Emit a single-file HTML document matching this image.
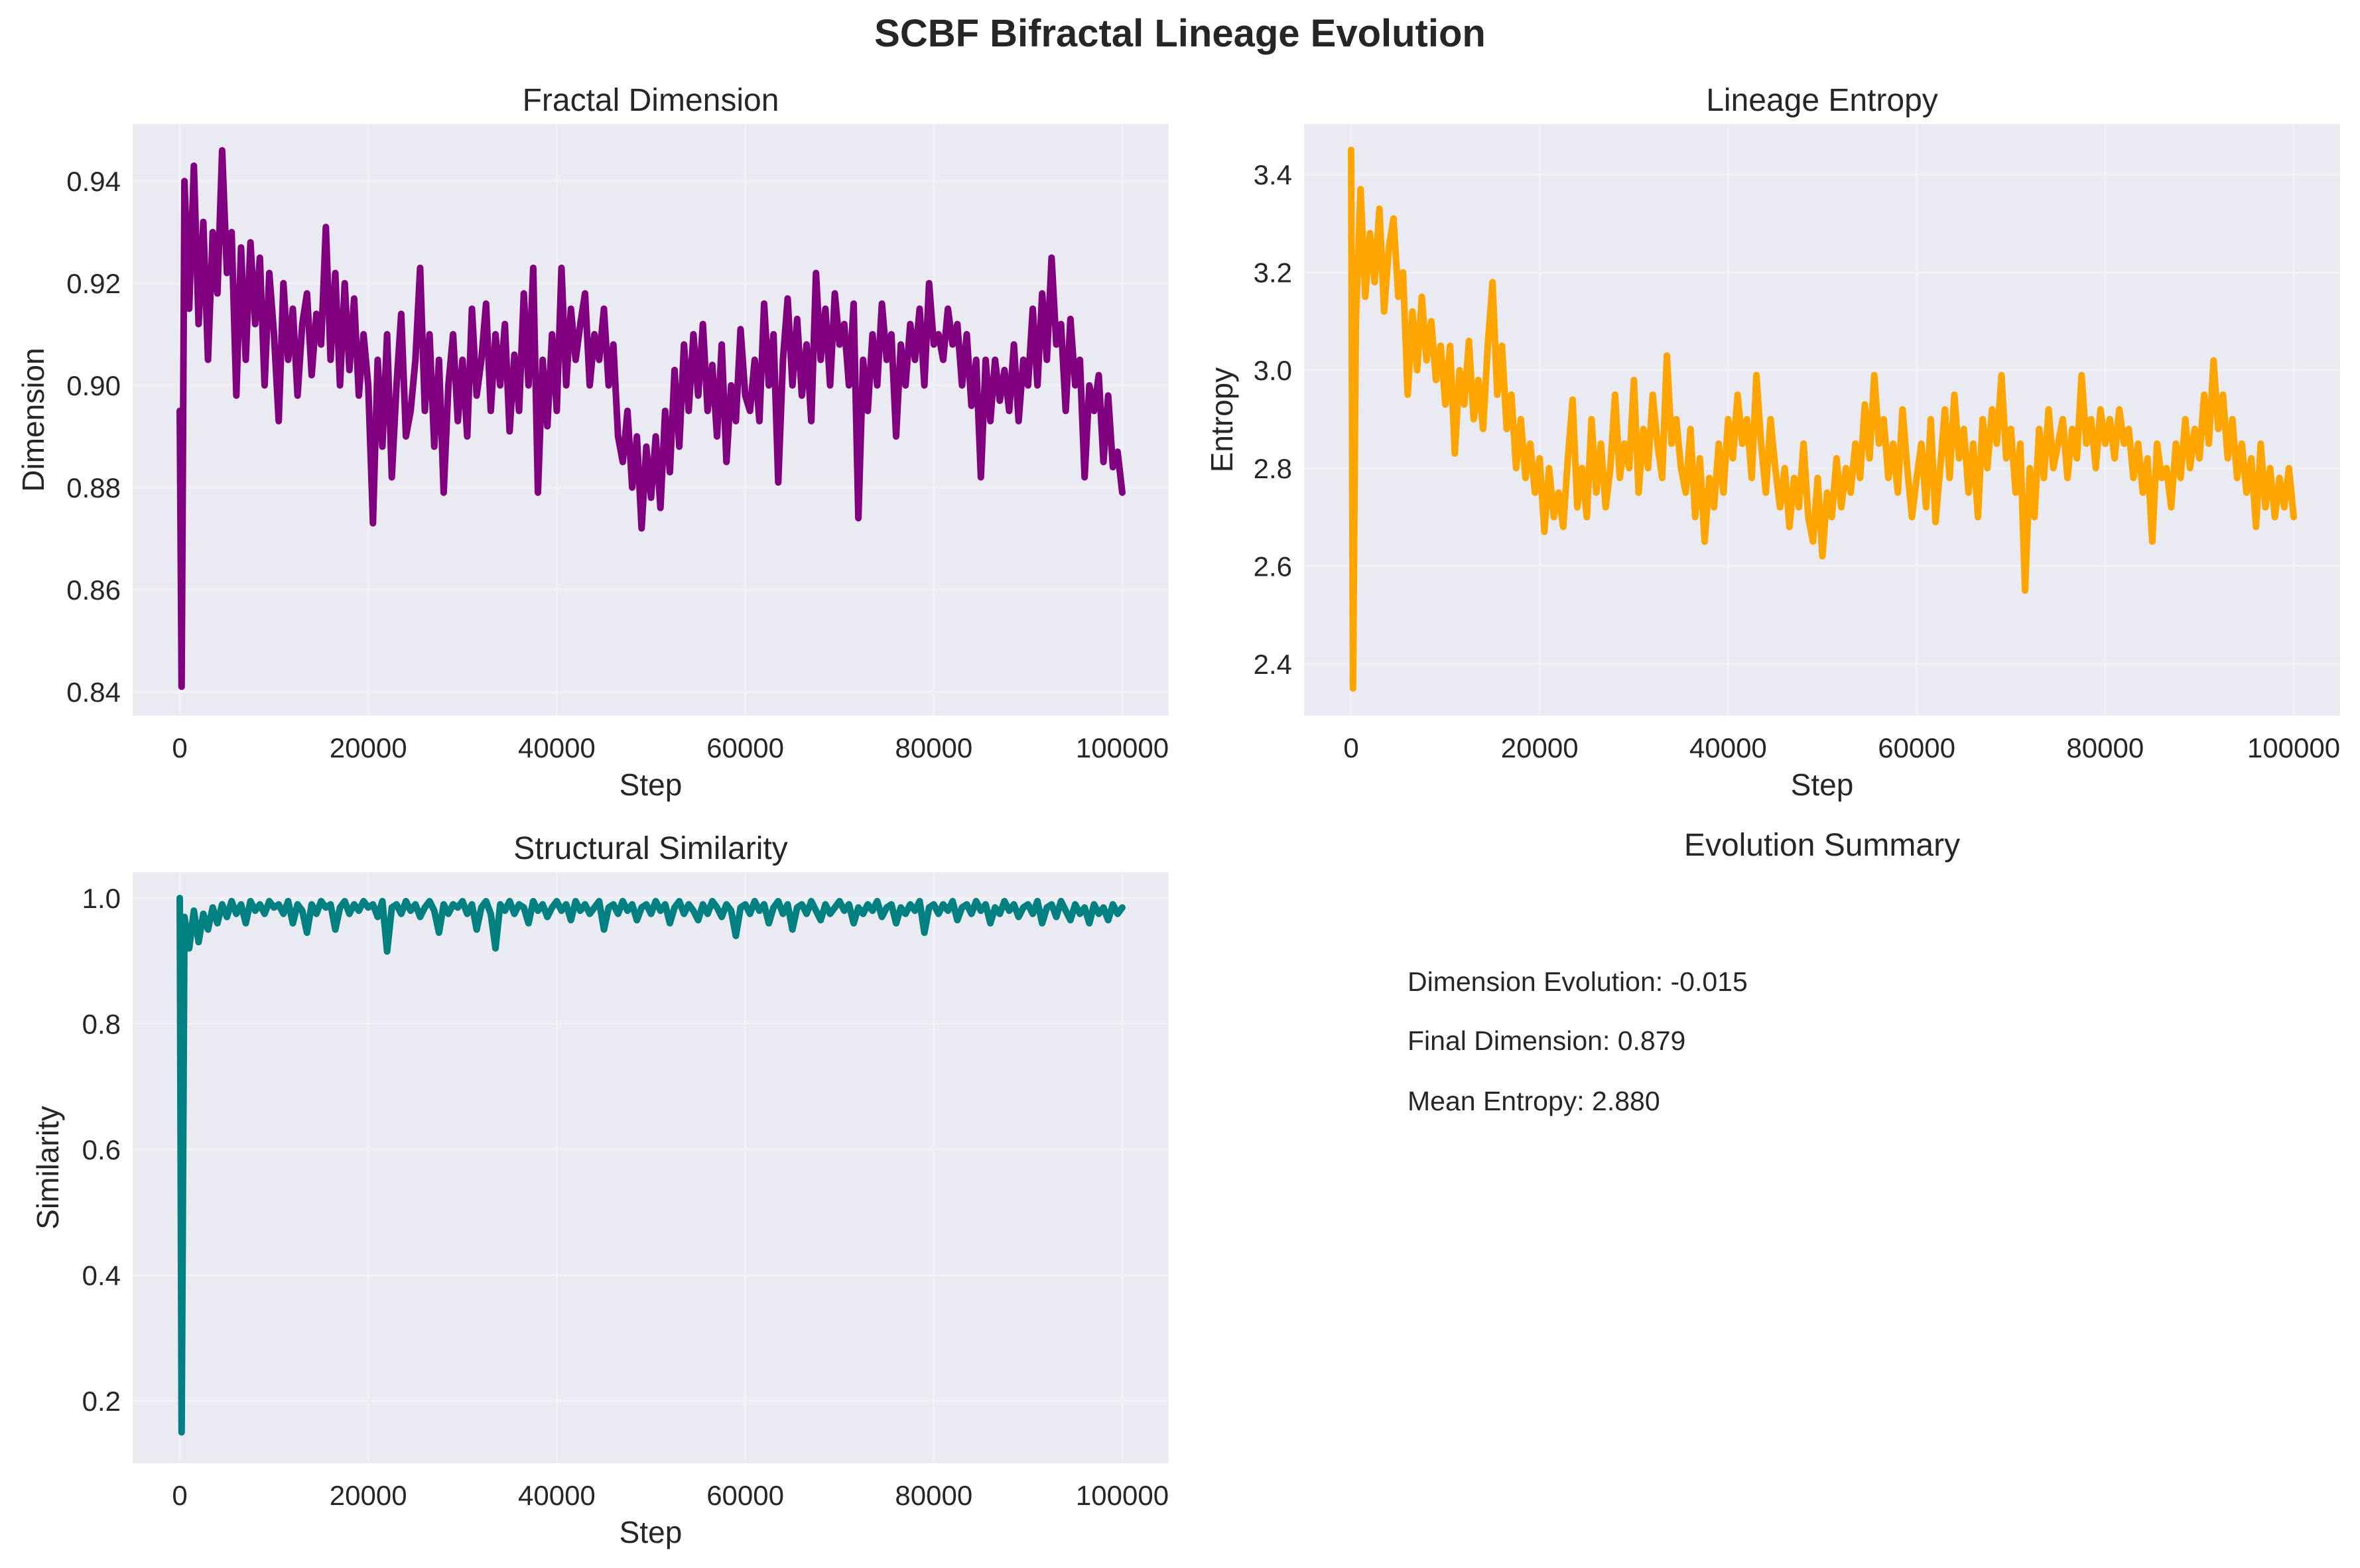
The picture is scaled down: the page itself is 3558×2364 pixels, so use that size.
<!DOCTYPE html>
<html><head><meta charset="utf-8">
<style>
html,body{margin:0;padding:0;background:#fff;}
svg{display:block;font-family:"Liberation Sans",Arial,sans-serif;}
</style></head>
<body>
<svg id="fig" width="3558" height="2364" viewBox="0 0 3558 2364" xmlns="http://www.w3.org/2000/svg">
<rect width="3558" height="2364" fill="#ffffff"/>
<text x="1779" y="70" text-anchor="middle" font-size="58" font-weight="bold" fill="#262626">SCBF Bifractal Lineage Evolution</text>
<g id="p1"></g>
<g id="p2"></g>
<g id="p3"></g>
<g>
<text x="2747" y="1290" text-anchor="middle" font-size="48" fill="#262626">Evolution Summary</text>
<text x="2122" y="1494" font-size="41" fill="#262626">Dimension Evolution: -0.015</text>
<text x="2122" y="1583" font-size="41" fill="#262626">Final Dimension: 0.879</text>
<text x="2122" y="1674" font-size="41" fill="#262626">Mean Entropy: 2.880</text>
</g>
</svg>
<script>
const xTicks = [0, 20000, 40000, 60000, 80000, 100000];
const xTickLabels = ["0", "20000", "40000", "60000", "80000", "100000"];
const dimTicks = [0.84, 0.86, 0.88, 0.90, 0.92, 0.94];
const dimTickLabels = ["0.84", "0.86", "0.88", "0.90", "0.92", "0.94"];
const entTicks = [2.4, 2.6, 2.8, 3.0, 3.2, 3.4];
const entTickLabels = ["2.4", "2.6", "2.8", "3.0", "3.2", "3.4"];
const simTicks = [0.2, 0.4, 0.6, 0.8, 1.0];
const simTickLabels = ["0.2", "0.4", "0.6", "0.8", "1.0"];
const steps = [0, 200].concat(Array.from({length: 200}, (_, i) => (i + 1) * 500));
const dimension = [0.895, 0.841,
0.940,0.915,0.943,0.912,0.932,0.905,0.930,0.918,0.946,0.922,0.930,0.898,0.927,0.905,0.928,0.912,0.925,0.900,0.922,0.910,
0.893,0.920,0.905,0.915,0.898,0.912,0.918,0.902,0.914,0.908,0.931,0.905,0.922,0.900,0.920,0.903,0.917,0.898,0.910,0.900,
0.873,0.905,0.888,0.910,0.882,0.900,0.914,0.890,0.895,0.905,0.923,0.895,0.910,0.888,0.905,0.879,0.900,0.910,0.893,0.905,
0.890,0.915,0.898,0.905,0.916,0.895,0.910,0.900,0.912,0.891,0.906,0.895,0.918,0.900,0.923,0.879,0.905,0.892,0.910,0.895,
0.923,0.900,0.915,0.905,0.912,0.918,0.900,0.910,0.905,0.915,0.900,0.908,0.890,0.885,0.895,0.880,0.890,0.872,0.888,0.878,
0.890,0.876,0.895,0.883,0.903,0.888,0.908,0.895,0.910,0.898,0.912,0.895,0.904,0.890,0.908,0.885,0.900,0.893,0.911,0.898,
0.895,0.905,0.893,0.916,0.900,0.910,0.881,0.905,0.917,0.900,0.913,0.898,0.908,0.893,0.922,0.905,0.915,0.900,0.918,0.908,
0.912,0.900,0.916,0.874,0.905,0.895,0.910,0.900,0.916,0.905,0.910,0.890,0.908,0.900,0.912,0.905,0.915,0.900,0.920,0.908,
0.910,0.905,0.915,0.908,0.912,0.900,0.910,0.896,0.905,0.882,0.905,0.893,0.905,0.897,0.903,0.895,0.908,0.893,0.905,0.900,
0.915,0.900,0.918,0.905,0.925,0.908,0.912,0.895,0.913,0.900,0.905,0.882,0.900,0.895,0.902,0.885,0.898,0.884,0.887,0.879];
const entropy = [3.45, 2.35,
3.10,3.37,3.15,3.28,3.18,3.33,3.12,3.25,3.31,3.15,3.20,2.95,3.12,3.00,3.15,3.02,3.10,2.98,3.05,2.93,
3.05,2.83,3.00,2.93,3.06,2.90,2.98,2.88,3.05,3.18,2.95,3.05,2.88,2.95,2.80,2.90,2.78,2.85,2.75,2.82,
2.67,2.80,2.70,2.75,2.68,2.82,2.94,2.72,2.80,2.70,2.90,2.75,2.85,2.72,2.80,2.95,2.78,2.85,2.80,2.98,
2.75,2.88,2.80,2.95,2.85,2.78,3.03,2.85,2.90,2.80,2.75,2.88,2.70,2.82,2.65,2.78,2.72,2.85,2.75,2.90,
2.82,2.95,2.85,2.90,2.78,2.99,2.85,2.75,2.90,2.80,2.72,2.80,2.68,2.78,2.72,2.85,2.70,2.65,2.78,2.62,
2.75,2.70,2.82,2.72,2.80,2.75,2.85,2.78,2.93,2.82,2.99,2.85,2.90,2.78,2.85,2.75,2.92,2.80,2.70,2.78,
2.85,2.72,2.90,2.69,2.80,2.92,2.78,2.95,2.82,2.88,2.75,2.85,2.70,2.90,2.80,2.92,2.85,2.99,2.82,2.88,
2.75,2.85,2.55,2.80,2.70,2.88,2.78,2.92,2.80,2.85,2.90,2.78,2.88,2.82,2.99,2.85,2.90,2.80,2.92,2.85,
2.90,2.82,2.92,2.85,2.88,2.78,2.85,2.75,2.82,2.65,2.85,2.78,2.80,2.72,2.85,2.78,2.90,2.80,2.88,2.82,
2.95,2.85,3.02,2.88,2.95,2.82,2.90,2.78,2.85,2.75,2.82,2.68,2.85,2.72,2.80,2.70,2.78,2.72,2.80,2.70];
const similarity = [1.0, 0.15,
0.97,0.92,0.98,0.93,0.975,0.95,0.985,0.96,0.99,0.97,0.995,0.975,0.99,0.96,0.995,0.98,0.99,0.975,0.995,0.985,
0.99,0.975,0.995,0.96,0.99,0.98,0.945,0.99,0.975,0.995,0.985,0.99,0.95,0.985,0.995,0.975,0.99,0.98,0.995,0.985,
0.99,0.97,0.995,0.915,0.985,0.99,0.975,0.995,0.98,0.99,0.97,0.985,0.995,0.98,0.945,0.99,0.975,0.99,0.985,0.995,
0.975,0.99,0.95,0.985,0.995,0.975,0.92,0.99,0.98,0.995,0.975,0.99,0.985,0.96,0.995,0.98,0.99,0.97,0.985,0.995,
0.98,0.99,0.965,0.995,0.98,0.99,0.975,0.985,0.995,0.95,0.985,0.99,0.975,0.995,0.98,0.99,0.965,0.985,0.99,0.975,
0.995,0.98,0.99,0.96,0.985,0.995,0.975,0.99,0.98,0.965,0.99,0.975,0.995,0.985,0.97,0.99,0.98,0.94,0.985,0.99,
0.975,0.995,0.98,0.99,0.96,0.985,0.995,0.975,0.99,0.95,0.985,0.99,0.975,0.995,0.98,0.965,0.99,0.975,0.985,0.995,
0.98,0.99,0.96,0.985,0.975,0.99,0.98,0.995,0.97,0.985,0.99,0.96,0.985,0.975,0.99,0.98,0.995,0.945,0.985,0.99,
0.975,0.99,0.98,0.995,0.965,0.985,0.99,0.975,0.995,0.98,0.99,0.96,0.985,0.975,0.995,0.98,0.99,0.97,0.985,0.99,
0.975,0.995,0.96,0.985,0.99,0.97,0.995,0.98,0.965,0.99,0.975,0.985,0.96,0.99,0.975,0.985,0.965,0.99,0.975,0.985];

const NS = "http://www.w3.org/2000/svg";
function mk(tag, attrs, parent) {
  const e = document.createElementNS(NS, tag);
  for (const k in attrs) e.setAttribute(k, attrs[k]);
  parent.appendChild(e);
  return e;
}
function drawPanel(cfg) {
  const g = document.getElementById(cfg.id);
  const xs = v => cfg.xa + (v - 0) / 100000 * (cfg.xb - cfg.xa);
  const ys = v => cfg.ya + (cfg.va - v) / (cfg.va - cfg.vb) * (cfg.yb - cfg.ya);
  const bg = mk("rect", {x: cfg.x0, y: cfg.y0, width: cfg.x1 - cfg.x0, height: cfg.y1 - cfg.y0, fill: "#EAEAF2"}, g);
  
  
  xTicks.forEach((t, i) => {
    const x = xs(t);
    const gl = mk("line", {x1: x, x2: x, y1: cfg.y0, y2: cfg.y1, stroke: "#f2f2f6", "stroke-width": 3}, g);
    
    
    const tl = mk("text", {x: x, y: cfg.y1 + 63, "text-anchor": "middle", "font-size": 42, fill: "#262626"}, g);
    tl.textContent = xTickLabels[i];
    
    
  });
  cfg.ticks.forEach((t, i) => {
    const y = ys(t);
    const gl = mk("line", {x1: cfg.x0, x2: cfg.x1, y1: y, y2: y, stroke: "#f2f2f6", "stroke-width": 3}, g);
    
    
    const tl = mk("text", {x: cfg.x0 - 18, y: y + 15, "text-anchor": "end", "font-size": 42, fill: "#262626"}, g);
    tl.textContent = cfg.tickLabels[i];
    
    
  });
  const pts = steps.map((s, i) => xs(s).toFixed(1) + "," + ys(cfg.values[i]).toFixed(1)).join(" ");
  const line = mk("polyline", {points: pts, fill: "none", stroke: cfg.color, "stroke-width": 10, "stroke-linejoin": "round", "stroke-linecap": "round"}, g);
  
  
  const tt = mk("text", {x: (cfg.x0 + cfg.x1) / 2, y: cfg.y0 - 20, "text-anchor": "middle", "font-size": 48, fill: "#262626"}, g);
  tt.textContent = cfg.title;
  
  
  const xl = mk("text", {x: (cfg.x0 + cfg.x1) / 2, y: cfg.y1 + 120, "text-anchor": "middle", "font-size": 46, fill: "#262626"}, g);
  xl.textContent = "Step";
  
  
  const cy = (cfg.y0 + cfg.y1) / 2;
  const yl = mk("text", {x: cfg.ylx, y: cy, "text-anchor": "middle", "font-size": 46, fill: "#262626", transform: "rotate(-90 " + cfg.ylx + " " + cy + ")"}, g);
  yl.textContent = cfg.ylabel;
  
  
}
drawPanel({id: "p1", x0: 200, x1: 1762, y0: 187, y1: 1079, xa: 271, xb: 1692,
  va: 0.94, vb: 0.92, ya: 273, yb: 427, ticks: dimTicks, tickLabels: dimTickLabels,
  values: dimension, color: "#800080", title: "Fractal Dimension", ylabel: "Dimension", ylx: 66, seriesName: "dimension-line"});
drawPanel({id: "p2", x0: 1966, x1: 3528, y0: 187, y1: 1079, xa: 2037, xb: 3458,
  va: 3.4, vb: 2.4, ya: 263, yb: 1001, ticks: entTicks, tickLabels: entTickLabels,
  values: entropy, color: "#FFA500", title: "Lineage Entropy", ylabel: "Entropy", ylx: 1858, seriesName: "entropy-line"});
drawPanel({id: "p3", x0: 200, x1: 1762, y0: 1315, y1: 2206, xa: 271, xb: 1692,
  va: 1.0, vb: 0.2, ya: 1354, yb: 2112, ticks: simTicks, tickLabels: simTickLabels,
  values: similarity, color: "#008080", title: "Structural Similarity", ylabel: "Similarity", ylx: 88, seriesName: "similarity-line"});
</script>
</body></html>
